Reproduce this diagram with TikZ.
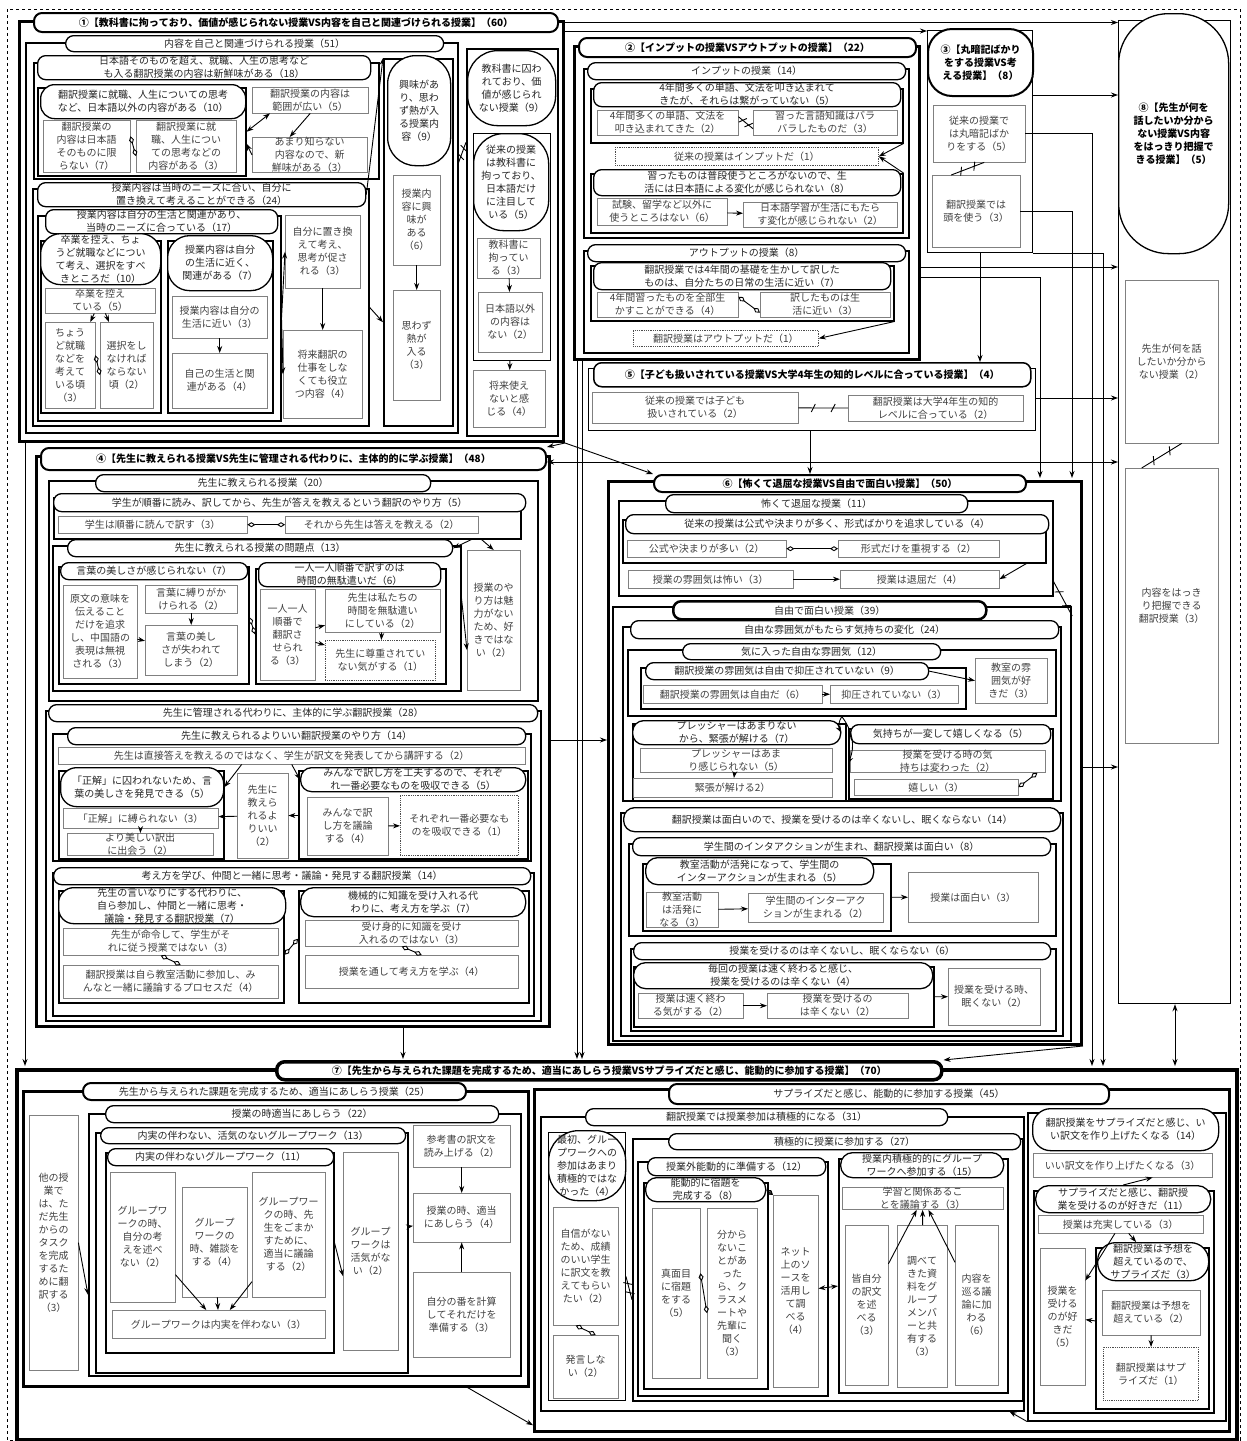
\documentclass[tikz,border=0pt]{standalone}
\usepackage{fontspec}
\setmainfont{Noto Sans CJK JP}
\XeTeXlinebreaklocale "ja"
\XeTeXlinebreakskip=0pt
\usetikzlibrary{arrows.meta, decorations.markings}

\begin{document}
\begin{tikzpicture}[x=1pt, y=-1pt,
    font={\fontsize{10}{13}\selectfont},
    cell/.code n args={4}{%
        \pgfmathsetmacro\cellw{#3-#1}\pgfmathsetmacro\cellh{#4-#2}\pgfmathsetmacro\cellt{#3-#1-12}%
        \tikzset{anchor=north west, at={(#1,#2)}, minimum width/.expanded=\cellw pt,
            minimum height/.expanded=\cellh pt, text width/.expanded=\cellt pt}},
    leaf/.style={draw=black!50, text=black!75, inner sep=0pt, align=center},
    hint/.style={leaf, draw=black!70, densely dotted, thick},
    frame/.style={draw=black, line width=1.5pt, inner sep=0pt},
    bigframe/.style={draw=black, line width=3pt, inner sep=0pt},
    head/.style={draw=black, line width=1.3pt, rounded corners=8pt, fill=white, text=black!85, inner sep=0pt, align=center},
    oval/.style={head, rounded corners=#1},
    title/.style={head, line width=2pt, text=black, font={\fontsize{10}{13}\selectfont\bfseries}},
    link/.style={-{Stealth[length=7pt,width=5pt]}, line width=0.9pt},
    both/.style={{Stealth[length=7pt,width=5pt]}-{Stealth[length=7pt,width=5pt]}, line width=0.9pt},
    pair/.style={{Diamond[open,length=8pt,width=5pt]}-{Diamond[open,length=8pt,width=5pt]}, line width=0.9pt},
    contra/.style={line width=0.9pt, postaction={decorate}, decoration={markings,
        mark=at position 0.3 with {\draw[line width=0.9pt] (-2pt,-4pt) -- (2pt,4pt);},
        mark=at position 0.7 with {\draw[line width=0.9pt] (-2pt,-4pt) -- (2pt,4pt);}}}
]
\useasboundingbox (0,0) rectangle (1247,1441);
\draw[dashed, thick] (7,9) rectangle (1240,1440);

% ① 
\node[bigframe, cell={18}{20}{562}{440}] (s1) {};
\node[title, cell={33}{12}{557}{31}] (hs1) {①【教科書に拘っており、価値が感じられない授業VS内容を自己と関連づけられる授業】（60）};
\node[frame, cell={25}{42}{457}{432}] (c51) {};
\node[head, cell={65}{35}{443}{51}] (h51) {内容を自己と関連づけられる授業（51）};
\node[frame, cell={33}{62}{378}{178}] (c18) {};
\node[head, cell={37}{55}{370}{79}] (h18) {日本語そのものを超え、就職、人生の思考なども入る翻訳授業の内容は新鮮味がある（18）};
\node[frame, cell={37}{87}{245}{175}] (c10a) {};
\node[oval=14pt, cell={40}{84}{245}{118}] (h10a) {翻訳授業に就職、人生についての思考など、日本語以外の内容がある（10）};
\node[leaf, cell={43}{120}{130}{172}] (n7a) {翻訳授業の内容は日本語そのものに限らない（7）};
\node[leaf, cell={136}{120}{236}{172}] (n3a) {翻訳授業に就職、人生についての思考などの内容がある（3）};
\node[leaf, cell={252}{87}{368}{113}] (n5a) {翻訳授業の内容は範囲が広い（5）};
\node[leaf, cell={252}{137}{367}{172}] (n3b) {あまり知らない内容なので、新鮮味がある（3）};
\node[frame, cell={32}{188}{368}{425}] (c24) {};
\node[head, cell={37}{182}{365}{206}] (h24) {授業内容は当時のニーズに合い、自分に置き換えて考えることができる（24）};
\node[frame, cell={37}{215}{280}{420}] (c17) {};
\node[head, cell={45}{209}{277}{233}] (h17) {授業内容は自分の生活と関連があり、当時のニーズに合っている（17）};
\node[frame, cell={40}{240}{160}{412}] (c10b) {};
\node[oval=20pt, cell={40}{233}{160}{284}] (h10b) {卒業を控え、ちょうど就職などについて考え、選択をすべきところだ（10）};
\node[leaf, cell={45}{288}{155}{313}] (n5b) {卒業を控えている（5）};
\node[leaf, cell={45}{322}{95}{408}] (n3c) {ちょうど就職などを考えている頃（3）};
\node[leaf, cell={100}{322}{153}{408}] (n2a) {選択をしなければならない頃（2）};
\node[frame, cell={167}{240}{272}{412}] (c7a) {};
\node[oval=22pt, cell={167}{235}{272}{290}] (h7a) {授業内容は自分の生活に近く、関連がある（7）};
\node[leaf, cell={172}{296}{267}{338}] (n3d) {授業内容は自分の生活に近い（3）};
\node[leaf, cell={172}{353}{267}{408}] (n4a) {自己の生活と関連がある（4）};
\node[leaf, cell={285}{215}{360}{288}] (n3e) {自分に置き換えて考え、思考が促される（3）};
\node[leaf, cell={283}{330}{362}{418}] (n4b) {将来翻訳の仕事をしなくても役立つ内容（4）};
\node[frame, cell={383}{58}{452}{425}] (c9a) {};
\node[oval=28pt, cell={387}{55}{450}{165}] (h9a) {興味があり、思わず熱が入る授業内容（9）};
\node[leaf, cell={393}{175}{440}{265}] (n6a) {授業内容に興味がある（6）};
\node[leaf, cell={393}{290}{440}{400}] (n3f) {思わず熱が入る（3）};
\node[frame, cell={466}{48}{557}{435}] (c9b) {};
\node[oval=30pt, cell={467}{50}{555}{125}] (h9b) {教科書に囚われており、価値が感じられない授業（9）};
\node[frame, line width=1pt, cell={473}{133}{550}{360}] (c5a) {};
\node[oval=30pt, cell={473}{133}{548}{230}] (h5a) {従来の授業は教科書に拘っており、日本語だけに注目している（5）};
\node[leaf, cell={477}{238}{540}{278}] (n3g) {教科書に拘っている（3）};
\node[leaf, cell={478}{292}{542}{352}] (n2b) {日本語以外の内容はない（2）};
\node[leaf, cell={473}{370}{545}{427}] (n4c) {将来使えないと感じる（4）};

% ②
\node[bigframe, cell={573}{45}{918}{358}] (s2) {};
\node[title, cell={578}{37}{915}{56}] (hs2) {②【インプットの授業VSアウトプットの授業】（22）};
\node[frame, cell={583}{68}{908}{237}] (c14a) {};
\node[head, cell={587}{62}{905}{79}] (h14a) {インプットの授業（14）};
\node[frame, cell={590}{88}{902}{142}] (c5c) {};
\node[head, cell={593}{82}{900}{106}] (h5c) {4年間多くの単語、文法を叩き込まれてきたが、それらは繋がっていない（5）};
\node[leaf, cell={597}{110}{738}{135}] (n2c) {4年間多くの単語、文法を叩き込まれてきた（2）};
\node[leaf, cell={753}{110}{897}{135}] (n3h) {習った言語知識はバラバラしたものだ（3）};
\node[hint, cell={615}{147}{878}{165}] (n1a) {従来の授業はインプットだ（1）};
\node[frame, cell={590}{173}{902}{232}] (c8a) {};
\node[head, cell={593}{169}{900}{195}] (h8a) {習ったものは普段使うところがないので、生活には日本語による変化が感じられない（8）};
\node[leaf, cell={597}{198}{727}{225}] (n6b) {試験、留学など以外に使うところはない（6）};
\node[leaf, cell={743}{202}{897}{227}] (n2d) {日本語学習が生活にもたらす変化が感じられない（2）};
\node[frame, cell={583}{250}{908}{352}] (c8b) {};
\node[head, cell={587}{244}{905}{261}] (h8b) {アウトプットの授業（8）};
\node[frame, cell={590}{265}{893}{320}] (c7b) {};
\node[head, cell={593}{262}{890}{289}] (h7b) {翻訳授業では4年間の基礎を生かして訳したものは、自分たちの日常の生活に近い（7）};
\node[leaf, cell={597}{292}{738}{317}] (n4d) {4年間習ったものを全部生かすことができる（4）};
\node[leaf, cell={760}{292}{890}{317}] (n3i) {訳したものは生活に近い（3）};
\node[hint, cell={633}{330}{818}{346}] (n1b) {翻訳授業はアウトプットだ（1）};

% ③
\node[frame, line width=1.2pt, cell={927}{30}{1032}{252}] (s3) {};
\node[title, rounded corners=24pt, cell={927}{28}{1032}{95}] (hs3) {③【丸暗記ばかりをする授業VS考える授業】（8）};
\node[leaf, cell={933}{105}{1025}{162}] (n5d) {従来の授業では丸暗記ばかりをする（5）};
\node[leaf, cell={932}{175}{1020}{247}] (n3j) {翻訳授業では頭を使う（3）};

% ⑧
\node[frame, line width=1.2pt, cell={1118}{20}{1230}{1003}] (s8) {};
\node[title, line width=1.3pt, rounded corners=50pt, cell={1118}{13}{1228}{253}] (hs8) {⑧【先生が何を話したいか分からない授業VS内容をはっきり把握できる授業】（5）};
\node[leaf, cell={1125}{280}{1218}{443}] (n2e) {先生が何を話したいか分からない授業（2）};
\node[leaf, cell={1125}{468}{1218}{743}] (n3k) {内容をはっきり把握できる翻訳授業（3）};

% ⑤
\node[frame, line width=1.2pt, cell={588}{368}{1035}{430}] (s5) {};
\node[title, line width=1.5pt, cell={593}{362}{1030}{386}] (hs5) {⑤【子ども扱いされている授業VS大学4年生の知的レベルに合っている授業】（4）};
\node[leaf, cell={592}{392}{798}{423}] (n2f) {従来の授業では子ども扱いされている（2）};
\node[leaf, cell={848}{395}{1023}{421}] (n2g) {翻訳授業は大学4年生の知的レベルに合っている（2）};

% ④
\node[bigframe, cell={35}{455}{548}{1025}] (s4) {};
\node[title, cell={40}{447}{545}{469}] (hs4) {④【先生に教えられる授業VS先生に管理される代わりに、主体的的に学ぶ授業】（48）};
\node[frame, cell={48}{480}{537}{700}] (c20) {};
\node[head, cell={95}{474}{430}{491}] (h20) {先生に教えられる授業（20）};
\node[frame, cell={53}{497}{520}{538}] (c5e) {};
\node[head, cell={53}{493}{525}{511}] (h5e) {学生が順番に読み、訳してから、先生が答えを教えるという翻訳のやり方（5）};
\node[leaf, cell={58}{516}{247}{533}] (n3l) {学生は順番に読んで訳す（3）};
\node[leaf, cell={285}{516}{478}{533}] (n2h) {それから先生は答えを教える（2）};
\node[frame, cell={52}{545}{460}{690}] (c13) {};
\node[head, cell={67}{539}{452}{556}] (h13) {先生に教えられる授業の問題点（13）};
\node[frame, cell={58}{566}{248}{683}] (c7c) {};
\node[head, cell={60}{562}{247}{579}] (h7c) {言葉の美しさが感じられない（7）};
\node[leaf, cell={63}{585}{137}{678}] (n3m) {原文の意味を伝えることだけを追求し、中国語の表現は無視される（3）};
\node[leaf, cell={145}{585}{237}{613}] (n2i) {言葉に縛りがかけられる（2）};
\node[leaf, cell={145}{625}{237}{675}] (n2j) {言葉の美しさが失われてしまう（2）};
\node[frame, cell={255}{568}{445}{683}] (c6a) {};
\node[head, cell={258}{562}{440}{586}] (h6a) {一人一人順番で訳すのは時間の無駄遣いだ（6）};
\node[leaf, cell={260}{589}{315}{680}] (n3n) {一人一人順番で翻訳させられる（3）};
\node[leaf, cell={325}{589}{440}{632}] (n2k) {先生は私たちの時間を無駄遣いにしている（2）};
\node[hint, cell={325}{640}{435}{680}] (n1c) {先生に尊重されていない気がする（1）};
\node[leaf, cell={467}{550}{520}{690}] (n2l) {授業のやり方は魅力がないため、好きではない（2）};
\node[frame, cell={45}{710}{540}{1020}] (c28) {};
\node[head, cell={48}{704}{537}{721}] (h28) {先生に管理される代わりに、主体的に学ぶ翻訳授業（28）};
\node[frame, cell={52}{733}{530}{860}] (c14b) {};
\node[head, cell={67}{727}{525}{744}] (h14b) {先生に教えられるよりいい翻訳授業のやり方（14）};
\node[leaf, cell={58}{747}{525}{764}] (n2m) {先生は直接答えを教えるのではなく、学生が訳文を発表してから講評する（2）};
\node[frame, cell={58}{770}{223}{858}] (c5f) {};
\node[oval=16pt, cell={60}{767}{223}{806}] (h5f) {「正解」に囚われないため、言葉の美しさを発見できる（5）};
\node[leaf, cell={63}{808}{218}{828}] (n3o) {「正解」に縛られない（3）};
\node[leaf, cell={67}{833}{213}{853}] (n2n) {より美しい訳出に出会う（2）};
\node[leaf, cell={237}{773}{288}{858}] (n2o) {先生に教えられるよりいい（2）};
\node[frame, cell={298}{770}{527}{858}] (c5g) {};
\node[oval=11pt, cell={300}{767}{525}{791}] (h5g) {みんなで訳し方を工夫するので、それぞれ一番必要なものを吸収できる（5）};
\node[leaf, cell={307}{797}{388}{855}] (n4e) {みんなで訳し方を議論する（4）};
\node[hint, cell={400}{795}{518}{855}] (n1d) {それぞれ一番必要なものを吸収できる（1）};
\node[frame, cell={52}{872}{533}{1015}] (c14c) {};
\node[head, cell={53}{867}{530}{884}] (h14c) {考え方を学び、仲間と一緒に思考・議論・発見する翻訳授業（14）};
\node[frame, cell={58}{890}{283}{1002}] (c7d) {};
\node[oval=15pt, cell={58}{887}{285}{923}] (h7d) {先生の言いなりにする代わりに、自ら参加し、仲間と一緒に思考・議論・発見する翻訳授業（7）};
\node[leaf, cell={63}{928}{278}{955}] (n3p) {先生が命令して、学生がそれに従う授業ではない（3）};
\node[leaf, cell={63}{965}{278}{998}] (n4f) {翻訳授業は自ら教室活動に参加し、みんなと一緒に議論するプロセスだ（4）};
\node[frame, cell={298}{890}{528}{1002}] (c7e) {};
\node[oval=13pt, cell={300}{887}{525}{916}] (h7e) {機械的に知識を受け入れる代わりに、考え方を学ぶ（7）};
\node[leaf, cell={305}{920}{518}{946}] (n3q) {受け身的に知識を受け入れるのではない（3）};
\node[leaf, cell={305}{955}{518}{988}] (n4g) {授業を通して考え方を学ぶ（4）};

% ⑥
\node[bigframe, cell={607}{480}{1080}{1043}] (s6) {};
\node[title, cell={653}{474}{1025}{491}] (hs6) {⑥【怖くて退屈な授業VS自由で面白い授業】（50）};
\node[frame, cell={618}{500}{1052}{595}] (c11) {};
\node[head, cell={665}{494}{967}{512}] (h11) {怖くて退屈な授業（11）};
\node[frame, cell={622}{519}{1045}{562}] (c4a) {};
\node[head, cell={625}{514}{1048}{533}] (h4a) {従来の授業は公式や決まりが多く、形式ばかりを追求している（4）};
\node[leaf, cell={627}{540}{786}{557}] (n2p) {公式や決まりが多い（2）};
\node[leaf, cell={838}{540}{999}{557}] (n2q) {形式だけを重視する（2）};
\node[leaf, cell={628}{570}{793}{588}] (n3r) {授業の雰囲気は怖い（3）};
\node[leaf, cell={840}{570}{999}{588}] (n4h) {授業は退屈だ（4）};
\node[frame, line width=2.2pt, cell={612}{606}{1070}{1040}] (c39) {};
\node[head, line width=2.5pt, cell={672}{600}{985}{618}] (h39) {自由で面白い授業（39）};
\node[frame, cell={622}{626}{1060}{800}] (c24b) {};
\node[head, cell={630}{620}{1058}{638}] (h24b) {自由な雰囲気がもたらす気持ちの変化（24）};
\node[frame, cell={627}{649}{1055}{715}] (c12) {};
\node[head, cell={682}{643}{940}{659}] (h12) {気に入った自由な雰囲気（12）};
\node[frame, cell={640}{667}{965}{708}] (c9c) {};
\node[head, cell={645}{662}{928}{679}] (h9c) {翻訳授業の雰囲気は自由で抑圧されていない（9）};
\node[leaf, cell={643}{685}{822}{703}] (n6c) {翻訳授業の雰囲気は自由だ（6）};
\node[leaf, cell={830}{685}{958}{703}] (n3s) {抑圧されていない（3）};
\node[leaf, cell={975}{658}{1047}{703}] (n3t) {教室の雰囲気が好きだ（3）};
\node[frame, cell={632}{723}{845}{800}] (c7f) {};
\node[oval=11pt, cell={632}{720}{840}{744}] (h7f) {プレッシャーはあまりないから、緊張が解ける（7）};
\node[leaf, cell={640}{748}{832}{772}] (n5h) {プレッシャーはあまり感じられない（5）};
\node[leaf, cell={633}{778}{832}{797}] (n2r) {緊張が解ける2）};
\node[frame, cell={848}{728}{1052}{798}] (c5h) {};
\node[head, cell={850}{724}{1050}{743}] (h5h) {気持ちが一変して嬉しくなる（5）};
\node[leaf, cell={850}{750}{1045}{770}] (n2s) {授業を受ける時の気持ちは変わった（2）};
\node[leaf, cell={854}{779}{1018}{795}] (n3u) {嬉しい（3）};
\node[frame, cell={620}{812}{1062}{1035}] (c14d) {};
\node[oval=11pt, cell={623}{807}{1060}{831}] (h14d) {翻訳授業は面白いので、授業を受けるのは辛くないし、眠くならない（14）};
\node[frame, cell={628}{843}{1055}{935}] (c8c) {};
\node[head, cell={632}{837}{1050}{855}] (h8c) {学生間のインタアクションが生まれ、翻訳授業は面白い（8）};
\node[frame, cell={642}{863}{890}{930}] (c5i) {};
\node[oval=12pt, cell={645}{857}{873}{884}] (h5i) {教室活動が活発になって、学生間のインターアクションが生まれる（5）};
\node[leaf, cell={646}{892}{718}{922}] (n3v) {教室活動は活発になる（3）};
\node[leaf, cell={748}{893}{883}{922}] (n2t) {学生間のインターアクションが生まれる（2）};
\node[leaf, cell={908}{872}{1038}{922}] (n3w) {授業は面白い（3）};
\node[frame, cell={630}{948}{1055}{1030}] (c6b) {};
\node[head, cell={633}{942}{1050}{959}] (h6b) {授業を受けるのは辛くないし、眠くならない（6）};
\node[frame, cell={633}{966}{933}{1026}] (c4b) {};
\node[oval=12pt, cell={633}{962}{932}{988}] (h4b) {毎回の授業は速く終わると感じ、授業を受けるのは辛くない（4）};
\node[leaf, cell={638}{993}{743}{1018}] (n2u) {授業は速く終わる気がする（2）};
\node[leaf, cell={767}{993}{908}{1018}] (n2v) {授業を受けるのは辛くない（2）};
\node[leaf, cell={948}{968}{1040}{1025}] (n2w) {授業を受ける時、眠くない（2）};

% ⑦
\node[bigframe, line width=4pt, cell={15}{1068}{1235}{1438}] (s7) {};
\node[title, line width=3.5pt, cell={275}{1060}{940}{1078}] (hs7) {⑦【先生から与えられた課題を完成するため、適当にあしらう授業VSサプライズだと感じ、能動的に参加する授業】（70）};
\node[frame, line width=2.5pt, cell={22}{1090}{527}{1385}] (c25) {};
\node[head, line width=2pt, cell={82}{1082}{465}{1099}] (h25) {先生から与えられた課題を完成するため、適当にあしらう授業（25）};
\node[leaf, cell={29}{1115}{78}{1370}] (n3x) {他の授業では、ただ先生からのタスクを完成するために翻訳する（3）};
\node[frame, cell={88}{1113}{520}{1375}] (c22) {};
\node[head, cell={105}{1105}{498}{1122}] (h22) {授業の時適当にあしらう（22）};
\node[frame, cell={95}{1132}{407}{1372}] (c13b) {};
\node[head, cell={100}{1127}{405}{1143}] (h13b) {内実の伴わない、活気のないグループワーク（13）};
\node[frame, cell={105}{1152}{333}{1352}] (c11b) {};
\node[head, cell={107}{1148}{333}{1165}] (h11b) {内実の伴わないグループワーク（11）};
\node[leaf, cell={110}{1172}{175}{1302}] (n2x) {グループワークの時、自分の考えを述べない（2）};
\node[leaf, cell={182}{1187}{247}{1297}] (n4i) {グループワークの時、雑談をする（4）};
\node[leaf, cell={252}{1172}{325}{1297}] (n2y) {グループワークの時、先生をごまかすために、適当に議論する（2）};
\node[leaf, cell={112}{1310}{325}{1338}] (n3y) {グループワークは内実を伴わない（3）};
\node[leaf, cell={343}{1152}{398}{1350}] (n2z) {グループワークは活気がない（2）};
\node[leaf, cell={413}{1125}{510}{1167}] (n2aa) {参考書の訳文を読み上げる（2）};
\node[leaf, cell={413}{1193}{510}{1242}] (n4j) {授業の時、適当にあしらう（4）};
\node[leaf, cell={413}{1272}{510}{1357}] (n3z) {自分の番を計算してそれだけを準備する（3）};
\node[frame, line width=2.5pt, cell={533}{1088}{1228}{1430}] (c45) {};
\node[head, line width=2pt, cell={668}{1083}{1108}{1103}] (h45) {サプライズだと感じ、能動的に参加する授業（45）};
\node[frame, cell={540}{1116}{1023}{1410}] (c31) {};
\node[head, cell={585}{1108}{947}{1125}] (h31) {翻訳授業では授業参加は積極的になる（31）};
\node[frame, line width=1pt, cell={548}{1132}{625}{1400}] (c4c) {};
\node[oval=30pt, cell={548}{1130}{625}{1200}] (h4c) {最初、グループワークへの参加はあまり積極的ではなかった（4）};
\node[leaf, cell={553}{1207}{618}{1325}] (n2ab) {自信がないため、成績のいい学生に訳文を教えてもらいたい（2）};
\node[leaf, cell={553}{1335}{618}{1398}] (n2ac) {発言しない（2）};
\node[frame, cell={632}{1138}{1022}{1400}] (c27) {};
\node[head, cell={668}{1133}{1020}{1149}] (h27) {積極的に授業に参加する（27）};
\node[frame, cell={637}{1161}{827}{1395}] (c12b) {};
\node[head, cell={647}{1157}{825}{1175}] (h12b) {授業外能動的に準備する（12）};
\node[frame, cell={643}{1182}{767}{1388}] (c8d) {};
\node[oval=11pt, cell={645}{1177}{765}{1201}] (h8d) {能動的に宿題を完成する（8）};
\node[leaf, cell={652}{1208}{700}{1378}] (n5i) {真面目に宿題をする（5）};
\node[leaf, cell={707}{1208}{757}{1378}] (n3aa) {分からないことがあったら、クラスメートや先輩に聞く（3）};
\node[leaf, cell={773}{1195}{818}{1387}] (n4k) {ネット上のソースを活用して調べる（4）};
\node[frame, cell={838}{1158}{1007}{1392}] (c15) {};
\node[oval=12pt, cell={840}{1152}{1003}{1177}] (h15) {授業内積極的的にグループワークへ参加する（15）};
\node[leaf, cell={842}{1187}{1003}{1208}] (n3ab) {学習と関係あることを議論する（3）};
\node[leaf, cell={845}{1225}{888}{1385}] (n3ac) {皆自分の訳文を述べる（3）};
\node[leaf, cell={897}{1225}{947}{1387}] (n3ad) {調べてきた資料をグループメンバーと共有する（3）};
\node[leaf, cell={955}{1225}{998}{1385}] (n6d) {内容を巡る議論に加わる（6）};
\node[frame, cell={1027}{1112}{1225}{1420}] (c14e) {};
\node[oval=18pt, cell={1032}{1108}{1218}{1150}] (h14e) {翻訳授業をサプライズだと感じ、いい訳文を作り上げたくなる（14）};
\node[leaf, cell={1033}{1153}{1212}{1177}] (n3ae) {いい訳文を作り上げたくなる（3）};
\node[frame, cell={1033}{1190}{1213}{1412}] (c11c) {};
\node[oval=13pt, cell={1035}{1185}{1210}{1212}] (h11c) {サプライズだと感じ、翻訳授業を受けるのが好きだ（11）};
\node[leaf, cell={1038}{1215}{1203}{1233}] (n3af) {授業は充実している（3）};
\node[leaf, cell={1040}{1248}{1085}{1385}] (n5j) {授業を受けるのが好きだ（5）};
\node[frame, cell={1095}{1247}{1208}{1408}] (c3a) {};
\node[oval=18pt, cell={1097}{1242}{1208}{1280}] (h3a) {翻訳授業は予想を超えているので、サプライズだ（3）};
\node[leaf, cell={1102}{1290}{1200}{1335}] (n2ad) {翻訳授業は予想を超えている（2）};
\node[hint, cell={1103}{1347}{1198}{1400}] (n1e) {翻訳授業はサプライズだ（1）};

% links inside the groups
\draw[pair] ([yshift=10pt]n7a.east) -- ([yshift=-10pt]n3a.west);
\draw[both] (c10a.east) -- ([xshift=18pt]n5a.south west);
\draw[link] (n5a.south) -- ([xshift=-20pt]n3b.north);
\draw[link] (n3b.west) -- ([yshift=-12pt]c10a.east);
\draw[link] (n5b) -- (n3c);
\draw[link] (n5b) -- (n2a);
\draw[pair] ([yshift=10pt]n3c.east) -- ([yshift=-10pt]n2a.west);
\draw[link] (n3d) -- (n4a);
\draw[link] (c17.east) -- (n3e.west);
\draw[link] (c17.east) -- (n4b.west);
\draw[link] (n3e) -- (n4b);
\draw[link] (n6a) -- (n3f);
\draw[link] (h24.east) -- (c9a.north west);
\draw[link] (c24.east) -- ([yshift=-80pt]c9a.west);
\draw[link] (n3g) -- (n2b);
\draw[link] (c5a) -- (n4c);
\draw[contra] ([yshift=100pt]c9b.west) -- ([yshift=75pt]c51.east);

\draw[contra] ([yshift=6pt]n2c.east) -- ([yshift=-6pt]n3h.west);
\draw[link] (c5c.south east) -- (n1a.east);
\draw[link] (c8a.north east) -- (n1a.east);
\draw[link] (n6b) -- (n2d);
\draw[pair] ([yshift=8pt]n4d.east) -- ([yshift=-8pt]n3i.west);
\draw[link] (c7b.south east) -- (n1b.east);
\draw[contra] ([xshift=-25pt]n3j.north) -- ([xshift=5pt]n5d.south);
\draw[contra] ([xshift=-30pt]n3k.north) -- ([xshift=10pt]n2e.south);
\draw[contra] (n2f) -- (n2g);

\draw[pair] (n3l) -- (n2h);
\draw[link] ([xshift=-50pt]c5e.south east) -- (h13.east);
\draw[link] ([xshift=-40pt]c5e.south east) -- (n2l.north);
\draw[link] (n2i) -- (n2j);
\draw[link] (n3m) -- (n2j);
\draw[link] (n3n) -- (n2k);
\draw[link] (n3n) -- (n1c);
\draw[link] (n2k) -- (n1c);
\draw[pair] ([yshift=8pt]c7c.east) -- ([yshift=-8pt]c6a.west);
\draw[link] ([yshift=20pt]c13.east) -- ([yshift=-30pt]n2l.west);
\draw[link] ([xshift=-50pt]n2m.south) -- (h5f.east);
\draw[link] (n2m.south) -- (h5g.west);
\draw[link] (n3o) -- (n2n);
\draw[link] (n2o) -- (n3o);
\draw[link] (c5g) -- (n2o);
\draw[link] (n4e) -- (n1d);
\draw[pair] ([xshift=-10pt]n3p.south) -- ([xshift=10pt]n4f.north);
\draw[pair] ([xshift=-10pt]n3q.south) -- ([xshift=10pt]n4g.north);
\draw[pair] ([yshift=-8pt]c7d.east) -- ([yshift=8pt]c7e.west);

\draw[pair] (n2p) -- (n2q);
\draw[link] (n3r) -- (n4h);
\draw[link] ([xshift=-20pt]c4a.south east) -- (n4h.east);
\draw[contra] ([yshift=15pt]c11.south east) -- ([yshift=-10pt]c39.north east);
\draw[link] (n6c) -- (n3s);
\draw[link] (h9c.east) -- (n3t.west);
\draw[link] (n5h) -- (n2r);
\draw[pair] ([xshift=-8pt]n2s.south east) -- (n3u.east);
\draw[link] (c12.south) to[bend right=30] (h7f.east);
\draw[link] (c12.south) to[bend left=30] (c5h.west);
\draw[link] (n3v) -- (n2t);
\draw[link] (c5i) -- (n3w);
\draw[link] (n2u) -- (n2v);
\draw[link] (c4b) -- (n2w);

\draw[link] (n2x) -- (n3y);
\draw[link] (n4i) -- (n3y);
\draw[link] (n2y) -- (n3y);
\draw[link] ([yshift=10pt]c11b.east) -- ([yshift=-25pt]n2z.west);
\draw[link] (n3x.east) -- ([yshift=-50pt]c22.west);
\draw[link] (n2aa) -- (n4j);
\draw[link] (n3z) -- (n4j);
\draw[link] (c13b) -- (n4j);
\draw[pair] ([xshift=-10pt]n2ab.south) -- ([xshift=10pt]n2ac.north);
\draw[pair] ([yshift=20pt]n5i.east) -- ([yshift=-20pt]n3aa.west);
\draw[pair] (h8d.east) -- (n4k.north west);
\draw[contra] ([yshift=-10pt]c4c.east) -- ([yshift=-30pt]c27.west);
\draw[link] (n3ac) -- (n3ab);
\draw[link] (n3ad) -- (n3ab);
\draw[link] (n6d) -- (n3ab);
\draw[both] (n4k) -- (c15);
\draw[link] (h11c.north) -- ([xshift=30pt]n3ae.south);
\draw[link] (n3af) -- (n5j);
\draw[link] (n3af) -- (h3a);
\draw[link] (n2ad) -- (n1e);
\draw[link] (c3a) -- (n5j);
\draw[link] (c14e.south west) -- ([xshift=-15pt]c31.south east);
\draw[link] ([xshift=-62pt]c25.south east) -- ([yshift=-165pt]c45.west);

% links between the groups
\coordinate (k1) at (927,31);
\coordinate (k2) at (1118,95);
\coordinate (k3) at (1118,267);
\coordinate (k4) at (1118,398);
\coordinate (k5) at (1118,767);
\coordinate (k6) at (1118,462);
\coordinate (k7) at (980,362);
\coordinate (k8) at (810,474);
\coordinate (k9) at (607,740);
\coordinate (k10) at (403,1059);
\coordinate (k11) at (25,1066);
\coordinate (k12) at (577,1059);
\coordinate (k13) at (582,1059);
\coordinate (k14) at (1040,478);
\coordinate (k15) at (1040,277);
\coordinate (k16) at (1072,478);
\coordinate (k17) at (1092,1066);
\coordinate (k18) at (1103,1066);
\coordinate (k19) at (1175,1066);
\coordinate (k20) at (1118,22);

\draw[link] (hs1.east) -- (hs1.east -| k20);
\draw[link] (s1.east |- k1) -- (k1);
\draw[link] (s3.east |- k2) -- (k2);
\draw[link] (s2.east |- k3) -- (k3);
\draw[link] (s5.east |- k4) -- (k4);
\draw[link] (s6.east |- k5) -- (k5);
\draw[both] (hs4.east |- k6) -- (k6);
\draw[link] (s3.south -| k7) -- (k7);
\draw[link] (s5.south -| k8) -- (k8);
\draw[link] (s4.east |- k9) -- (k9);
\draw[link] (s4.south -| k10) -- (k10);
\draw[link] (s1.south -| k11) -- (k11);
\draw[link] (s2.south -| k12) -- (k12);
\draw[link] (s2.south -| k13) -- (k13);
\draw[link] (s2.east |- k15) -- (k15) -- (k14);
\draw[link] (n3j.east) -| (k16);
\draw[link] (n5d.east) -| (k17);
\draw[link] (s3.south east) -| (k18);
\draw[both] (s8.south -| k19) -- (k19);
\draw[link] (s1.south east) -- (hs4.north east);
\draw[link] (s1.south east) -- (hs6.north west);
\draw[link] (s6.south east) -- (hs7.north east);

\end{tikzpicture}
\end{document}
